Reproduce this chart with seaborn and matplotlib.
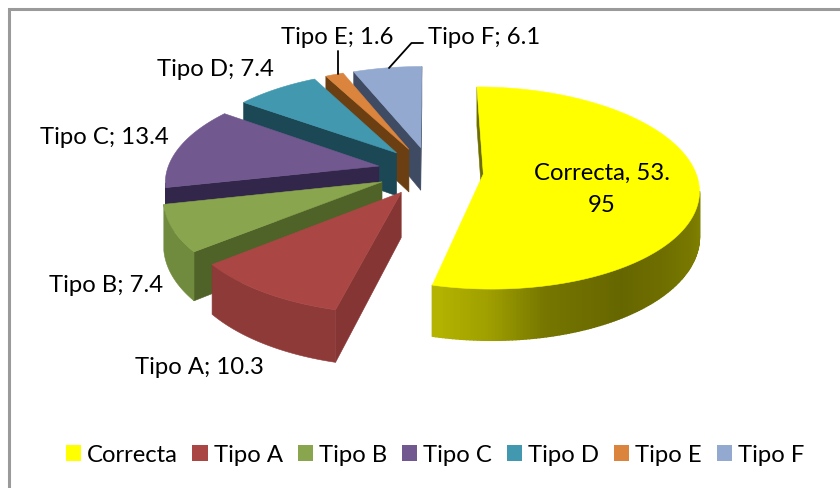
import numpy as np
import matplotlib
matplotlib.use("Agg")
import matplotlib.pyplot as plt
from matplotlib.colors import to_rgb
from matplotlib.patches import Patch, Polygon
import seaborn as sns

# Answer shares per category
categories = ["Correcta", "Tipo A", "Tipo B", "Tipo C", "Tipo D", "Tipo E", "Tipo F"]
values = [53.95, 10.3, 7.4, 13.4, 7.4, 1.6, 6.1]

top_colors = ["#FFFF00", "#AA4644", "#89A54E", "#71588F", "#4198AF", "#DB843D", "#93A9CF"]
arc_colors = ["#808000", "#8E3A38", "#708A3E", "#33264A", "#1C4856", "#6B3F12", "#3F4B63"]
side_colors = ["#6E6E00", "#853533", "#4F6228", "#32264A", "#1C4856", "#6B3F12", "#3F4B63"]

sns.set_theme(style="white")
plt.rcParams["font.family"] = ["Lato", "DejaVu Sans"]
FONT = 17.2

# Oblique view of the exploded pie: screen units are pixels
CX, CY = 430.5, 171.0
RX, RY = 212.0, 98.3
PERSP = 0.138
EXPLODE = 0.25
THICK = 44.0


def project(x, y):
    """Map pie-plane coordinates (x right, y towards the viewer) to the screen."""
    s = 1.0 / (1.0 - PERSP * y)
    return np.array([CX + RX * x * s, CY + RY * y * s]), s


def wedge_outline(start, end, n=240):
    mid = np.radians((start + end) / 2)
    ox, oy = EXPLODE * np.sin(mid), -EXPLODE * np.cos(mid)
    angles = np.radians(np.linspace(start, end, n))
    plane = [(ox, oy)] + [(ox + np.sin(a), oy - np.cos(a)) for a in angles]
    return plane, np.degrees(angles)


def signed_area(pts):
    p = np.asarray(pts)
    return 0.5 * np.sum(p[:, 0] * np.roll(p[:, 1], -1) - np.roll(p[:, 0], -1) * p[:, 1])


def sheen(color, angle):
    # The big slice has a metallic sheen along its rim
    factor = np.interp(angle, [90, 105, 147, 167, 180, 195], [0.52, 0.50, 0.40, 0.46, 0.62, 0.72])
    return tuple(c * factor for c in to_rgb(color))


fig = plt.figure(figsize=(8.4, 4.88), dpi=100)
ax = fig.add_axes([0, 0, 1, 1])
ax.set_xlim(0, 840)
ax.set_ylim(488, 0)
ax.axis("off")

# Chart frame
ax.plot([8.5, 8.5, 840], [488, 8.5, 8.5], color="#9A9A9A", lw=2.2, solid_joinstyle="miter", zorder=1)

fractions = np.cumsum([0] + values) / sum(values) * 360
order = np.argsort([-np.cos(np.radians((a + b) / 2)) for a, b in zip(fractions[:-1], fractions[1:])])

z = 2
for i in order:
    start, end = fractions[i], fractions[i + 1]
    plane, angs = wedge_outline(start, end)
    projected = [project(*p) for p in plane]
    top = [p for p, _ in projected]
    low = [p + np.array([0, THICK * s]) for p, s in projected]
    n = len(top)

    # Flat side walls first, keeping only those that face the viewer
    for k in (0, n - 1):
        m = (k + 1) % n
        quad = [top[k], top[m], low[m], low[k]]
        if signed_area(quad) < 0:
            ax.add_patch(Polygon(quad, closed=True, facecolor=side_colors[i], edgecolor=side_colors[i],
                                 lw=0.4, zorder=z))

    # Rim: visible stretches become one outline, or thin strips when shaded
    visible = [k for k in range(1, n - 1)
               if signed_area([top[k], top[k + 1], low[k + 1], low[k]]) < 0]
    if visible:
        if i == 0:
            for k in visible:
                col = sheen(top_colors[0], angs[k - 1])
                quad = [top[k], top[k + 1], low[k + 1], low[k]]
                ax.add_patch(Polygon(quad, closed=True, facecolor=col, edgecolor=col, lw=1.0, zorder=z))
        else:
            idx = visible + [visible[-1] + 1]
            rim = [top[k] for k in idx] + [low[k] for k in reversed(idx)]
            ax.add_patch(Polygon(rim, closed=True, facecolor=arc_colors[i], edgecolor=arc_colors[i],
                                 lw=0.4, zorder=z))

    ax.add_patch(Polygon(top, closed=True, facecolor=top_colors[i], edgecolor=top_colors[i], lw=0.4, zorder=z + 1))
    z += 2

# Data labels
label_pos = {
    "Tipo A": (199, 368), "Tipo B": (106, 286), "Tipo C": (104.5, 138),
    "Tipo D": (215, 70), "Tipo E": (337.5, 37), "Tipo F": (484, 37),
}
for name, val in zip(categories[1:], values[1:]):
    ax.text(*label_pos[name], f"{name}; {val}", ha="center", va="center", fontsize=FONT, color="black", zorder=50)

whole, frac = f"{values[0]:.2f}".split(".")
ax.text(602, 189, f"{categories[0]}, {whole}.\n{frac}", ha="center", va="center", fontsize=FONT,
        color="black", linespacing=1.65, zorder=50)

# Leader lines for the two thin slices
ax.plot([337.5, 337.5], [51, 74], color="black", lw=1.3, zorder=50)
ax.plot([389, 411.5, 423], [68, 43, 43], color="black", lw=1.3, zorder=50)

handles = [Patch(facecolor=c, edgecolor="none", label=n) for n, c in zip(categories, top_colors)]
ax.legend(handles=handles, loc="center", bbox_to_anchor=(435 / 840, 1 - 455 / 488), ncol=7, frameon=False,
          fontsize=FONT, handlelength=0.63, handleheight=0.63, handletextpad=0.27, columnspacing=0.61,
          labelcolor="black", borderpad=0, borderaxespad=0)

fig.savefig("out.png", dpi=100)
